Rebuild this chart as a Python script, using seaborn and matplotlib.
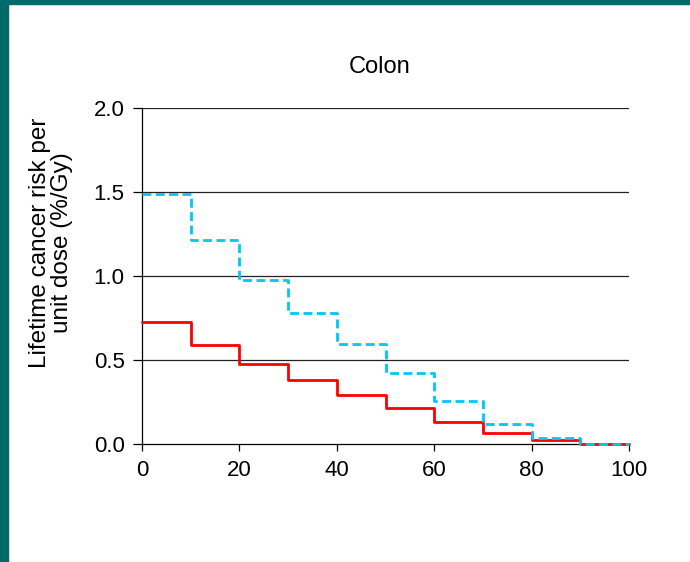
import numpy as np
import pandas as pd
import matplotlib
matplotlib.use("Agg")
import matplotlib.pyplot as plt
import seaborn as sns
from matplotlib.patches import Rectangle

# Age-at-exposure bins (left edges) and risk per bin
age_edges = [0, 10, 20, 30, 40, 50, 60, 70, 80, 90]
age_max = 100
risk_red = [0.725, 0.59, 0.475, 0.378, 0.29, 0.212, 0.133, 0.066, 0.022, 0.0]
risk_cyan = [1.49, 1.215, 0.978, 0.78, 0.597, 0.425, 0.256, 0.12, 0.035, 0.0]
y_ticks = [0.0, 0.5, 1.0, 1.5, 2.0]
x_ticks = [0, 20, 40, 60, 80, 100]

sns.set_theme(style="white")
plt.rcParams.update({
    "font.family": ["Liberation Sans", "DejaVu Sans"],
    "font.size": 12,
})


def step_frame(values, name):
    ages = age_edges + [age_max]
    vals = values + [values[-1]]
    return pd.DataFrame({"age": ages, "risk": vals, "series": name})


df_red = step_frame(risk_red, "red")
df_cyan = step_frame(risk_cyan, "cyan")

fig = plt.figure(figsize=(6.9, 5.62), dpi=100)
ax = fig.add_axes([142 / 690, 1 - 444 / 562, (629 - 142) / 690, (444 - 108) / 562])

for y in y_ticks[1:]:
    ax.axhline(y, color="#222222", lw=0.9, zorder=1)

sns.lineplot(data=df_red, x="age", y="risk", ax=ax, color="#FF0000",
             lw=2, drawstyle="steps-post", zorder=3, clip_on=False)
sns.lineplot(data=df_cyan, x="age", y="risk", ax=ax, color="#00C8F5",
             lw=2, ls=(0, (3.2, 1.6)), drawstyle="steps-post", zorder=4, clip_on=False)

ax.set_xlim(0, 100)
ax.set_ylim(0, 2.0)
ax.set_xticks(x_ticks)
ax.set_yticks(y_ticks)
ax.set_yticklabels([f"{v:.1f}" for v in y_ticks])
ax.tick_params(axis="both", direction="out", width=0.9, color="black",
               labelsize=16, labelcolor="black")
ax.tick_params(axis="x", bottom=True, length=5, pad=6.5)
ax.tick_params(axis="y", left=True, length=6.5, pad=6)
for side in ["top", "right"]:
    ax.spines[side].set_visible(False)
for side in ["left", "bottom"]:
    ax.spines[side].set_color("black")
    ax.spines[side].set_linewidth(0.9)

ax.set_xlabel("")
ax.set_ylabel("")
fig.text(51 / 690, 1 - 243 / 562, "Lifetime cancer risk per\nunit dose (%/Gy)",
         rotation=90, ha="center", va="center", multialignment="center",
         fontsize=17.5, color="black", linespacing=1.05)
fig.text(380 / 690, 1 - 73 / 562, "Colon", ha="center", va="baseline",
         fontsize=17, color="black")

# teal frame strips on the left and top edges
fig.patches.append(Rectangle((0, 0), 8 / 690, 1, transform=fig.transFigure,
                             color="#006A6A", zorder=0))
fig.patches.append(Rectangle((0, 1 - 4 / 562), 1, 4 / 562, transform=fig.transFigure,
                             color="#006A6A", zorder=0))

fig.savefig("out.png", dpi=100, facecolor="white")
